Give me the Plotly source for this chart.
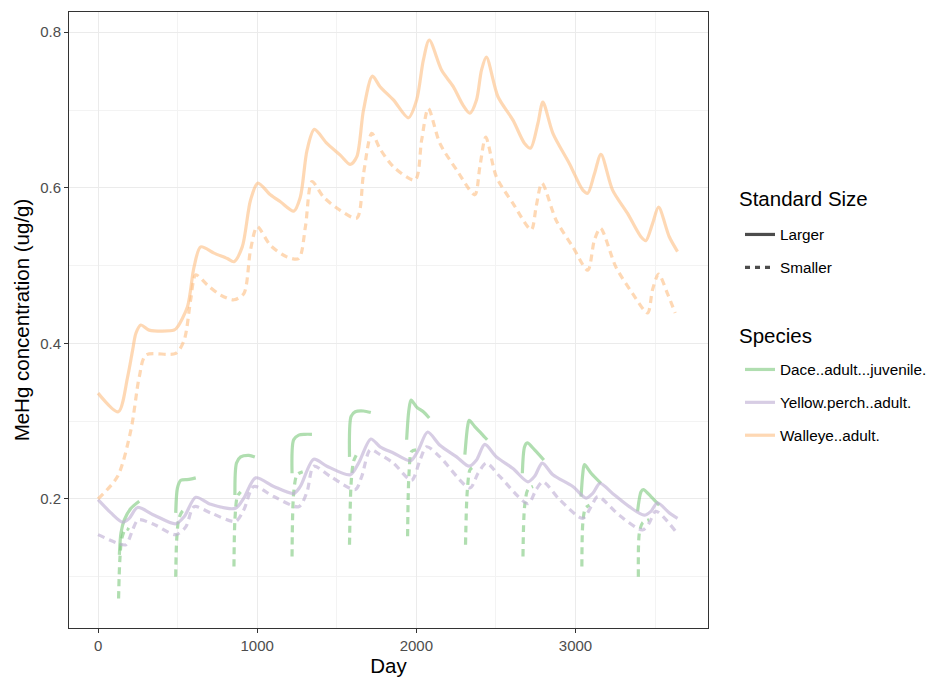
import plotly.graph_objects as go

# --- MeHg concentration by day (ug/g) ---
walleye_large_day = [0, 127, 186, 217, 238, 269, 321, 478, 499, 562, 603, 645, 729, 812, 854,
                     906, 958, 1004, 1083, 1146, 1230, 1271, 1313, 1359, 1438, 1522, 1585, 1626,
                     1668, 1724, 1772, 1856, 1950, 2002, 2044, 2081, 2159, 2232, 2294, 2336, 2378,
                     2409, 2440, 2513, 2607, 2680, 2718, 2764, 2795, 2858, 2962, 3046, 3077, 3119,
                     3160, 3233, 3327, 3411, 3442, 3484, 3522, 3589, 3641]
walleye_large_val = [0.336, 0.312, 0.357, 0.391, 0.413, 0.4235, 0.417, 0.417, 0.421, 0.447, 0.498,
                     0.524, 0.516, 0.509, 0.505, 0.524, 0.584, 0.606, 0.591, 0.582, 0.570, 0.588,
                     0.648, 0.675, 0.657, 0.642, 0.630, 0.640, 0.700, 0.7435, 0.730, 0.713, 0.690,
                     0.713, 0.764, 0.790, 0.751, 0.730, 0.706, 0.696, 0.713, 0.751, 0.768, 0.717,
                     0.687, 0.657, 0.651, 0.683, 0.710, 0.670, 0.631, 0.597, 0.593, 0.618, 0.643,
                     0.597, 0.567, 0.537, 0.532, 0.554, 0.575, 0.537, 0.518]

walleye_small_day = [0, 123, 207, 259, 301, 488, 541, 582, 614, 687, 770, 854, 916, 958, 1000,
                     1083, 1188, 1261, 1303, 1344, 1417, 1522, 1626, 1668, 1720, 1772, 1856, 1992,
                     2033, 2075, 2148, 2253, 2367, 2399, 2436, 2503, 2607, 2722, 2753, 2789, 2879,
                     2983, 3077, 3119, 3157, 3254, 3359, 3453, 3484, 3522, 3578, 3626]
walleye_small_val = [0.200, 0.229, 0.289, 0.357, 0.385, 0.387, 0.404, 0.456, 0.488, 0.475, 0.462,
                     0.456, 0.464, 0.520, 0.550, 0.526, 0.511, 0.509, 0.550, 0.608, 0.588, 0.571,
                     0.561, 0.618, 0.670, 0.650, 0.627, 0.610, 0.661, 0.702, 0.657, 0.623, 0.591,
                     0.627, 0.665, 0.614, 0.580, 0.546, 0.576, 0.606, 0.558, 0.524, 0.494, 0.533,
                     0.548, 0.498, 0.464, 0.439, 0.469, 0.489, 0.464, 0.439]

perch_large_day = [0, 81, 155, 196, 248, 353, 488, 541, 614, 708, 864, 916, 990, 1104, 1230, 1271,
                   1355, 1438, 1585, 1637, 1714, 1772, 1856, 1964, 2013, 2071, 2148, 2253, 2332,
                   2378, 2430, 2503, 2607, 2701, 2743, 2791, 2858, 2983, 3067, 3108, 3154, 3233,
                   3338, 3432, 3474, 3515, 3589, 3641]
perch_large_val = [0.199, 0.182, 0.170, 0.175, 0.189, 0.179, 0.168, 0.177, 0.202, 0.193, 0.188,
                   0.201, 0.227, 0.216, 0.207, 0.216, 0.251, 0.242, 0.231, 0.246, 0.277, 0.267,
                   0.259, 0.249, 0.263, 0.286, 0.269, 0.254, 0.242, 0.250, 0.270, 0.254, 0.239,
                   0.222, 0.229, 0.246, 0.231, 0.216, 0.201, 0.207, 0.220, 0.207, 0.190, 0.179,
                   0.184, 0.195, 0.182, 0.175]

perch_small_day = [0, 123, 175, 217, 252, 353, 488, 551, 603, 708, 864, 916, 979, 1104, 1261, 1313,
                   1355, 1459, 1616, 1657, 1710, 1772, 1856, 1970, 2023, 2065, 2148, 2336, 2388,
                   2440, 2524, 2701, 2753, 2795, 2900, 3046, 3098, 3140, 3275, 3421, 3463, 3505,
                   3630]
perch_small_val = [0.154, 0.143, 0.141, 0.160, 0.173, 0.167, 0.154, 0.164, 0.190, 0.182, 0.171,
                   0.186, 0.216, 0.203, 0.190, 0.209, 0.242, 0.229, 0.212, 0.229, 0.263, 0.257,
                   0.246, 0.224, 0.250, 0.267, 0.254, 0.214, 0.233, 0.246, 0.229, 0.194, 0.212,
                   0.222, 0.199, 0.175, 0.190, 0.203, 0.179, 0.160, 0.169, 0.184, 0.158]

# Dace is only present part of each year; None marks the breaks between seasons
dace_large_day = [134, 144, 165, 207, 259, None,
                  488, 499, 520, 572, 614, None,
                  860, 870, 896, 948, 985, None,
                  1219, 1229, 1261, 1300, 1344, None,
                  1580, 1590, 1616, 1668, 1714, None,
                  1939, 1953, 1967, 2002, 2044, 2081, None,
                  2305, 2322, 2332, 2367, 2409, 2445, None,
                  2666, 2680, 2697, 2743, 2801, None,
                  3035, 3046, 3056, 3098, 3160, None,
                  3390, 3411, 3426, 3474, 3526]
dace_large_val = [0.128, 0.156, 0.173, 0.188, 0.197, None,
                  0.182, 0.214, 0.224, 0.225, 0.227, None,
                  0.205, 0.246, 0.254, 0.256, 0.254, None,
                  0.233, 0.276, 0.282, 0.283, 0.283, None,
                  0.254, 0.306, 0.312, 0.313, 0.311, None,
                  0.276, 0.314, 0.327, 0.318, 0.312, 0.304, None,
                  0.257, 0.293, 0.301, 0.293, 0.284, 0.276, None,
                  0.233, 0.267, 0.272, 0.263, 0.250, None,
                  0.203, 0.233, 0.244, 0.233, 0.220, None,
                  0.184, 0.209, 0.212, 0.203, 0.192]

dace_small_day = [129, 137, 150, 175, 195, None,
                  488, 494, 508, 530, 555, None,
                  854, 860, 875, 896, None,
                  1219, 1229, 1250, 1286, None,
                  1580, 1590, 1605, 1622, None,
                  1945, 1954, 1970, 1998, None,
                  2309, 2319, 2336, 2350, None,
                  2670, 2680, 2701, 2733, None,
                  3040, 3046, 3062, 3088, None,
                  3395, 3401, 3421, 3463]
dace_small_val = [0.072, 0.122, 0.150, 0.162, 0.160, None,
                  0.100, 0.147, 0.175, 0.184, 0.188, None,
                  0.113, 0.173, 0.203, 0.209, None,
                  0.126, 0.207, 0.231, 0.235, None,
                  0.141, 0.220, 0.248, 0.256, None,
                  0.152, 0.233, 0.261, 0.263, None,
                  0.141, 0.207, 0.237, 0.240, None,
                  0.126, 0.190, 0.212, 0.216, None,
                  0.113, 0.169, 0.188, 0.192, None,
                  0.100, 0.156, 0.169, 0.173]

species_names = ["Dace..adult...juvenile.", "Yellow.perch..adult.", "Walleye..adult."]
size_names = ["Larger", "Smaller"]
legend_titles = ["Standard Size", "Species"]

# Accent palette at ~60% alpha over white
GREEN = "rgba(127,201,127,0.62)"
PURPLE = "rgba(190,174,212,0.62)"
ORANGE = "rgba(253,192,134,0.62)"
KEY_GREY = "rgba(0,0,0,0.7)"
LW = 3.2
DASH = "7px,5px"
FONT = "Liberation Sans, Arial, sans-serif"

# plot area in pixels
L, R, T, B = 69, 234, 12, 51
PW, PH = 942 - L - R, 679 - T - B

fig = go.Figure()

series = [
    (dace_large_day, dace_large_val, GREEN, "solid", species_names[0], True),
    (dace_small_day, dace_small_val, GREEN, DASH, species_names[0], False),
    (perch_large_day, perch_large_val, PURPLE, "solid", species_names[1], True),
    (perch_small_day, perch_small_val, PURPLE, DASH, species_names[1], False),
    (walleye_large_day, walleye_large_val, ORANGE, "solid", species_names[2], True),
    (walleye_small_day, walleye_small_val, ORANGE, DASH, species_names[2], False),
]
for xd, yd, col, dash, name, show in series:
    fig.add_trace(go.Scatter(
        x=xd, y=yd, mode="lines", name=name,
        line=dict(color=col, width=LW, dash=dash, shape="spline", smoothing=0.8),
        connectgaps=False, showlegend=show, legend="legend2",
        legendgroup=name, hoverinfo="skip"))

# line-type key
for nm, dash in zip(size_names, ["solid", "5px,5px"]):
    fig.add_trace(go.Scatter(
        x=[None], y=[None], mode="lines", name=nm,
        line=dict(color=KEY_GREY, width=LW, dash=dash),
        legend="legend", legendgroup=nm, showlegend=True))

axis_common = dict(
    showline=True, linecolor="#333333", linewidth=1, mirror=True,
    ticks="outside", ticklen=4, tickcolor="#333333", tickwidth=1,
    tickfont=dict(family=FONT, size=15, color="#4d4d4d"),
    gridcolor="#ebebeb", gridwidth=1.1, zeroline=False, automargin=False,
)

legend_common = dict(
    xref="container", yref="container", xanchor="left", yanchor="top",
    font=dict(family=FONT, size=15.3, color="black"),
    traceorder="grouped", tracegroupgap=10, itemwidth=30,
    bgcolor="rgba(0,0,0,0)",
)

fig.update_layout(
    width=942, height=679,
    margin=dict(l=L, r=R, t=T, b=B),
    paper_bgcolor="white", plot_bgcolor="white",
    font=dict(family=FONT, color="black"),
    xaxis=dict(range=[-182.5, 3832.5], tick0=0, dtick=1000,
               minor=dict(dtick=500, showgrid=True, gridcolor="#f3f3f3", gridwidth=0.8),
               title=dict(text="Day", font=dict(family=FONT, size=20.5), standoff=5),
               **axis_common),
    yaxis=dict(range=[0.034, 0.826], tick0=0, dtick=0.2, tickformat=".1f",
               minor=dict(dtick=0.1, showgrid=True, gridcolor="#f3f3f3", gridwidth=0.8),
               title=dict(text="MeHg concentration (ug/g)", font=dict(family=FONT, size=20.5), standoff=4),
               **axis_common),
    legend=dict(x=740 / 942, y=1 - 218 / 679, **legend_common),
    legend2=dict(x=740 / 942, y=1 - 353 / 679, **legend_common),
    annotations=[
        dict(text=legend_titles[0], xref="paper", yref="paper",
             x=(737 - L) / PW, y=1 - (198 - T) / PH,
             xanchor="left", yanchor="middle", showarrow=False,
             font=dict(family=FONT, size=20.5, color="black")),
        dict(text=legend_titles[1], xref="paper", yref="paper",
             x=(737 - L) / PW, y=1 - (335 - T) / PH,
             xanchor="left", yanchor="middle", showarrow=False,
             font=dict(family=FONT, size=20.5, color="black")),
    ],
)

fig.write_html("out.html")
